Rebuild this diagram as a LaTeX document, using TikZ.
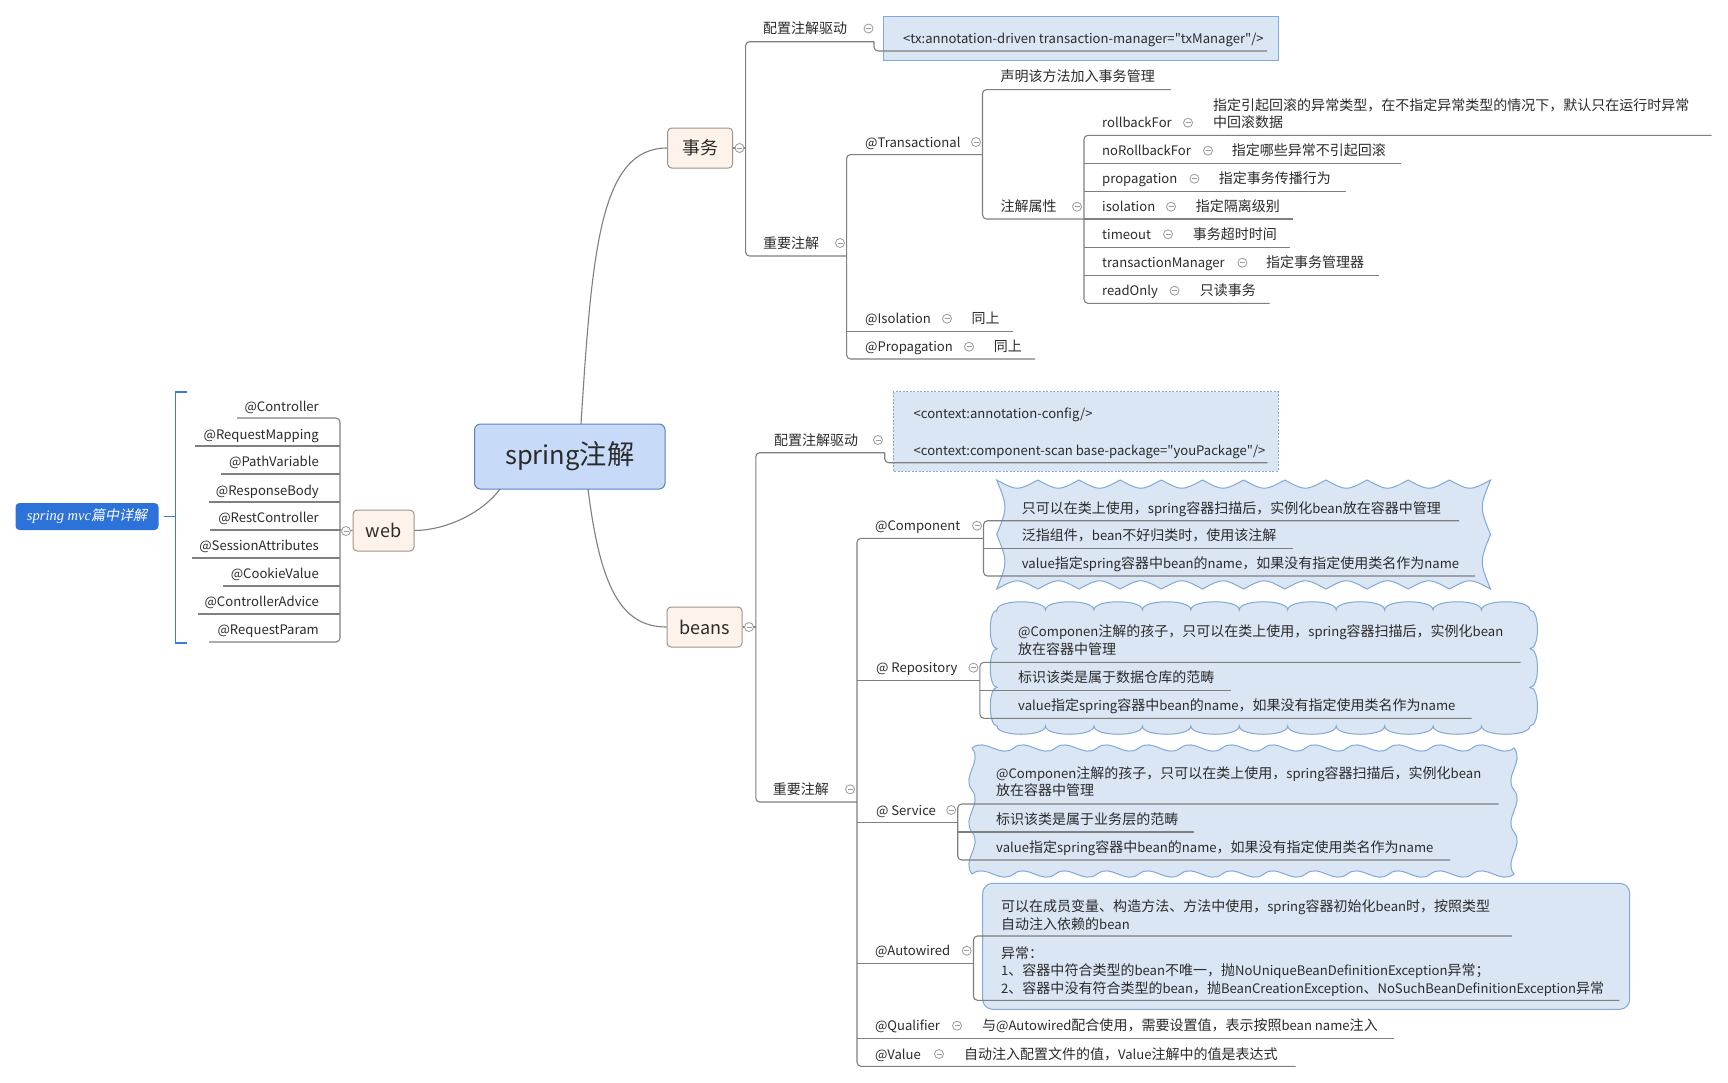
\documentclass[tikz,border=0pt]{standalone}
\usepackage{fontspec}
\setmainfont{Noto Sans CJK SC}[Ligatures=TeXOff]
\newfontfamily\cjkfont{Noto Sans CJK SC}[Ligatures=TeXOff, Scale=1.069]
\newfontfamily\mvcfont{Liberation Serif}
\newfontfamily\cjksl{Noto Sans CJK SC}[FakeSlant=0.2]
% switch to a larger CJK face for CJK characters, smaller Latin face otherwise
\chardef\cjkcls=7
\count255="3000 \loop \XeTeXcharclass\count255=\cjkcls \ifnum\count255<"303F \advance\count255 by 1 \repeat
\count255="4E00 \loop \XeTeXcharclass\count255=\cjkcls \ifnum\count255<"9FFF \advance\count255 by 1 \repeat
\count255="FF00 \loop \XeTeXcharclass\count255=\cjkcls \ifnum\count255<"FFEF \advance\count255 by 1 \repeat
\XeTeXinterchartoks 0 \cjkcls = {\cjkfont}
\XeTeXinterchartoks 4095 \cjkcls = {\cjkfont}
\XeTeXinterchartoks \cjkcls 0 = {\rmfamily}
\XeTeXinterchartoks \cjkcls 4095 = {\rmfamily}
\XeTeXinterchartokenstate=1
\definecolor{linegray}{HTML}{7F7F7F}
\definecolor{txt}{HTML}{2B2B2B}
\definecolor{cloudfill}{HTML}{DBE6F4}
\definecolor{cloudline}{HTML}{80A8DA}
\definecolor{centerfill}{HTML}{C7DBF8}
\definecolor{centerline}{HTML}{5A7FC4}
\definecolor{topicfill}{HTML}{FDF3EA}
\definecolor{topicline}{HTML}{A0948A}
\definecolor{mvcblue}{HTML}{2D72D9}
\definecolor{bracketblue}{HTML}{3B7BD6}
\definecolor{collgray}{HTML}{9A9A9A}
\newcommand\fs{\fontsize{13.1pt}{17.3pt}\selectfont}
\tikzset{
  ln/.style={draw=linegray, line width=1.1pt, rounded corners=4pt},
  curve/.style={draw=linegray, line width=1.1pt},
  lbl/.style={anchor=base west, inner sep=0pt, text=txt, font=\fs},
  lblr/.style={anchor=base east, inner sep=0pt, text=txt, font=\fs},
  cloudA/.style={fill=cloudfill, draw=cloudline, line width=1pt},
  topicbox/.style={fill=topicfill, draw=topicline, line width=1pt, rounded corners=4pt, text=txt, inner sep=0pt},
  coll/.style={circle, draw=collgray, fill=white, line width=0.8pt, minimum size=9pt, inner sep=0pt,
    path picture={\draw[collgray, line width=0.8pt] ([xshift=-2.5pt]path picture bounding box.center) -- ([xshift=2.5pt]path picture bounding box.center);}},
}
\begin{document}
\begin{tikzpicture}[x=1pt, y=-1pt]
\useasboundingbox (0,0) rectangle (1728,1082);
\fill[white] (0,0) rectangle (1728,1082);

% ---------- boxes and clouds ----------
\node[fill=centerfill, draw=centerline, line width=1pt, rounded corners=6pt, minimum width=190.5pt, minimum height=65pt, inner sep=0pt, text=txt, font=\fontsize{25.5pt}{28pt}\selectfont] (center) at (569.75,456.5) {spring注解};
\node[topicbox, minimum width=65pt, minimum height=40pt, font=\fontsize{16.8pt}{20pt}\selectfont] (shiwu) at (700.1,148) {事务};
\node[topicbox, minimum width=75pt, minimum height=40pt, font=\fontsize{18pt}{20pt}\selectfont] (beans) at (704.5,627) {beans};
\node[topicbox, minimum width=61pt, minimum height=41pt, font=\fontsize{18pt}{20pt}\selectfont] (web) at (383.5,530.5) {web};
\node[fill=mvcblue, rounded corners=4pt, minimum width=143pt, minimum height=27pt, inner sep=0pt, text=white] (mvc) at (87,516.5) {\XeTeXinterchartokenstate=0 {\fontsize{14.5pt}{16pt}\selectfont\mvcfont\itshape spring mvc}{\fontsize{14pt}{16pt}\selectfont\cjksl 篇中详解}};

\draw[fill=cloudfill, draw=cloudline, line width=1pt] (883,16) rectangle (1278,60);
\draw[fill=cloudfill, draw=cloudline, line width=1pt, dash pattern=on 2pt off 1.5pt] (893,391.7) rectangle (1278,471);

% Component cloud (cusps outward)
\path[cloudA] (996.7,480)
  \foreach \i in {1,...,12} { .. controls ({996.7+(\i-0.5)*41.15},491) .. ({996.7+\i*41.15},480) }
  \foreach \i in {1,2} { .. controls (1479.5,{480+(\i-0.5)*54.5}) .. (1490.5,{480+\i*54.5}) }
  \foreach \i in {1,...,12} { .. controls ({1490.5-(\i-0.5)*41.15},578) .. ({1490.5-\i*41.15},589) }
  \foreach \i in {1,2} { .. controls (1007.7,{589-(\i-0.5)*54.5}) .. (996.7,{589-\i*54.5}) }
  -- cycle;
% Repository cloud (bumps outward)
\path[cloudA] (997,610)
  \foreach \i in {1,...,11} { .. controls ({997+(\i-1)*48.45},599) and ({997+\i*48.45},599) .. ({997+\i*48.45},610) }
  \foreach \i in {1,2,3} { .. controls (1540,{610+(\i-1)*38.67}) and (1540,{610+\i*38.67}) .. (1530,{610+\i*38.67}) }
  \foreach \i in {1,...,11} { .. controls ({1530-(\i-1)*48.45},737) and ({1530-\i*48.45},737) .. ({1530-\i*48.45},726) }
  \foreach \i in {1,2,3} { .. controls (988,{726-(\i-1)*38.67}) and (988,{726-\i*38.67}) .. (997,{726-\i*38.67}) }
  -- cycle;
% Service cloud (smooth wave)
\path[cloudA] (972,748)
  \foreach \i in {1,...,13} { .. controls ({972+(\i-0.667)*41.69},737) and ({972+(\i-0.333)*41.69},759) .. ({972+\i*41.69},748) }
  \foreach \i in {1,2,3} { .. controls (1525,{748+(\i-0.667)*42}) and (1503,{748+(\i-0.333)*42}) .. (1514,{748+\i*42}) }
  \foreach \i in {1,...,13} { .. controls ({1514-(\i-0.667)*41.69},885) and ({1514-(\i-0.333)*41.69},863) .. ({1514-\i*41.69},874) }
  \foreach \i in {1,2,3} { .. controls (961,{874-(\i-0.667)*42}) and (983,{874-(\i-0.333)*42}) .. (972,{874-\i*42}) }
  -- cycle;
% Autowired box
\draw[fill=cloudfill, draw=cloudline, line width=1pt, rounded corners=10pt] (982.7,883.3) rectangle (1629.7,1009.3);

% ---------- main curves ----------
\coordinate (ctop) at (581,424);
\coordinate (cbot) at (588,489);
\coordinate (cbl) at (500,489);
\draw[curve] (ctop) .. controls (592,250) and (600,148) .. (shiwu.west);
\draw[curve] (cbot) .. controls (600,585) and (620,627) .. (beans.west);
\draw[curve] (web.east) .. controls (450,530) and (485,510) .. (cbl);

% ---------- left (web) ----------
\draw[bracketblue, line width=1.2pt] (mvc.east) ++(5,0) -- (175.4,516.5);
\draw[bracketblue, line width=1.2pt] (186.6,392) -- (175.4,392) -- (175.4,643) -- (186.6,643);
\draw[ln] (web.west) -- (340,530);
\draw[ln] (237,418) -- (340,418) -- (340,642) -- (209,642);
\foreach \y/\x in {446/195, 474/221, 502/209, 530/210, 558/192, 586/223, 614/198} \draw[ln] (\x,\y) -- (340,\y);
\node[lblr] (w1) at (319,411) {@Controller};
\node[lblr] (w2) at (319,439) {@RequestMapping};
\node[lblr] (w3) at (319,466) {@PathVariable};
\node[lblr] (w4) at (319,495) {@ResponseBody};
\node[lblr] (w5) at (319,522) {@RestController};
\node[lblr] (w6) at (319,550) {@SessionAttributes};
\node[lblr] (w7) at (319,578) {@CookieValue};
\node[lblr] (w8) at (319,606) {@ControllerAdvice};
\node[lblr] (w9) at (319,634) {@RequestParam};

% ---------- transaction ----------
\draw[ln] (shiwu.east) -- (745.6,148);
\draw[ln] (874,41.7) -- (745.6,41.7) -- (745.6,256) -- (846.6,256);
\draw[ln] (874,41.7) -- (874,51) -- (1267,51);
\draw[ln] (982.5,154.6) -- (846.6,154.6) -- (846.6,359) -- (1035,359);
\draw[ln] (846.6,331.3) -- (1013,331.3);
\draw[ln] (1170.8,89.6) -- (982.5,89.6) -- (982.5,219) -- (1084,219);
\draw[ln] (1711.5,135.3) -- (1084,135.3) -- (1084,303.3) -- (1269.6,303.3);
\foreach \y/\x in {163.3/1401, 191.3/1345.7, 219/1293.4, 247.3/1290.4, 275.3/1379.4} \draw[ln] (1084,\y) -- (\x,\y);

\node[lbl] (t_pz) at (763,33) {配置注解驱动};
\node[lbl] (t_txt) at (903,43) {<tx:annotation-driven transaction-manager="txManager"/>};
\node[lbl] (t_zy) at (763,248) {重要注解};
\node[lbl] (t_tr) at (865,147) {@Transactional};
\node[lbl] (t_sm) at (1000.5,81) {声明该方法加入事务管理};
\node[lbl] (t_zs) at (1000.5,211.7) {注解属性};
\node[lbl] (a_rb) at (1102,127.7) {rollbackFor};
\node[lbl] (d_rb1) at (1213,110) {指定引起回滚的异常类型，在不指定异常类型的情况下，默认只在运行时异常};
\node[lbl] (d_rb2) at (1213,127.7) {中回滚数据};
\node[lbl] (a_nr) at (1102,155.7) {noRollbackFor};
\node[lbl] (d_nr) at (1231.6,155.7) {指定哪些异常不引起回滚};
\node[lbl] (a_pr) at (1102,183.7) {propagation};
\node[lbl] (d_pr) at (1218.6,183.7) {指定事务传播行为};
\node[lbl] (a_is) at (1102,211.7) {isolation};
\node[lbl] (d_is) at (1195.7,211.7) {指定隔离级别};
\node[lbl] (a_to) at (1102,239.3) {timeout};
\node[lbl] (d_to) at (1192.7,239.3) {事务超时时间};
\node[lbl] (a_tm) at (1102,267.7) {transactionManager};
\node[lbl] (d_tm) at (1266,267.7) {指定事务管理器};
\node[lbl] (a_ro) at (1102,295.7) {readOnly};
\node[lbl] (d_ro) at (1199.6,295.7) {只读事务};
\node[lbl] (t_is) at (865,323.7) {@Isolation};
\node[lbl] (d_is2) at (971.4,323.7) {同上};
\node[lbl] (t_pp) at (865,351.7) {@Propagation};
\node[lbl] (d_pp) at (993.6,351.7) {同上};

% ---------- beans ----------
\draw[ln] (beans.east) -- (755.8,627);
\draw[ln] (884.7,452.7) -- (755.8,452.7) -- (755.8,802) -- (857,802);
\draw[ln] (884.7,452.7) -- (884.7,462.7) -- (1267.5,462.7);
\draw[ln] (983.5,538.3) -- (857,538.3) -- (857,1066.3) -- (1295.6,1066.3);
\foreach \y/\x in {680.3/979.9, 822.7/957.7, 963.3/973.5, 1038.3/1394} \draw[ln] (857,\y) -- (\x,\y);
\draw[ln] (1459,520.7) -- (983.5,520.7) -- (983.5,576) -- (1475,576);
\draw[ln] (983.5,548.3) -- (1293.3,548.3);
\draw[ln] (1520.7,662.3) -- (979.9,662.3) -- (979.9,718.3) -- (1471.7,718.3);
\draw[ln] (979.9,690.3) -- (1230.7,690.3);
\draw[ln] (1498.7,804) -- (957.7,804) -- (957.7,860) -- (1450,860);
\draw[ln] (957.7,832) -- (1193.7,832);
\draw[ln] (1512,936) -- (973.5,936) -- (973.5,1000.3) -- (1619.4,1000.3);

\node[lbl] (b_pz) at (773.8,445) {配置注解驱动};
\node[lbl] (b_c1) at (913.4,418.3) {<context:annotation-config/>};
\node[lbl] (b_c2) at (913.4,455) {<context:component-scan base-package="youPackage"/>};
\node[lbl] (b_zy) at (772.7,794.3) {重要注解};
\node[lbl] (b_cm) at (875,530.7) {@Component};
\node[lbl] (cm1) at (1021.7,513.3) {只可以在类上使用，spring容器扫描后，实例化bean放在容器中管理};
\node[lbl] (cm2) at (1021.7,540.7) {泛指组件，bean不好归类时，使用该注解};
\node[lbl] (cm3) at (1021.7,568.3) {value指定spring容器中bean的name，如果没有指定使用类名作为name};
\node[lbl] (b_rp) at (875.8,672.7) {@ Repository};
\node[lbl] (rp1a) at (1018,636.7) {@Componen注解的孩子，只可以在类上使用，spring容器扫描后，实例化bean};
\node[lbl] (rp1b) at (1018,654) {放在容器中管理};
\node[lbl] (rp2) at (1018,682.3) {标识该类是属于数据仓库的范畴};
\node[lbl] (rp3) at (1018,710.3) {value指定spring容器中bean的name，如果没有指定使用类名作为name};
\node[lbl] (b_sv) at (875.8,815) {@ Service};
\node[lbl] (sv1a) at (996,778.3) {@Componen注解的孩子，只可以在类上使用，spring容器扫描后，实例化bean};
\node[lbl] (sv1b) at (996,795.6) {放在容器中管理};
\node[lbl] (sv2) at (996,824.3) {标识该类是属于业务层的范畴};
\node[lbl] (sv3) at (996,852.3) {value指定spring容器中bean的name，如果没有指定使用类名作为name};
\node[lbl] (b_aw) at (874.8,955.7) {@Autowired};
\node[lbl] (aw1a) at (1001,911.7) {可以在成员变量、构造方法、方法中使用，spring容器初始化bean时，按照类型};
\node[lbl] (aw1b) at (1001,929) {自动注入依赖的bean};
\node[lbl] (aw2a) at (1001,958.3) {异常：};
\node[lbl] (aw2b) at (1001,975) {1、容器中符合类型的bean不唯一，抛NoUniqueBeanDefinitionException异常；};
\node[lbl] (aw2c) at (1001,993) {2、容器中没有符合类型的bean，抛BeanCreationException、NoSuchBeanDefinitionException异常};
\node[lbl] (b_ql) at (874.8,1030.7) {@Qualifier};
\node[lbl] (d_ql) at (982,1030.7) {与@Autowired配合使用，需要设置值，表示按照bean name注入};
\node[lbl] (b_vl) at (874.8,1059) {@Value};
\node[lbl] (d_vl) at (963.8,1059) {自动注入配置文件的值，Value注解中的值是表达式};

% ---------- collapse markers ----------
\foreach \n/\x/\y in {k1/346/531, k2/739.5/148, k3/868.5/28.5, k4/840/243, k5/976/142, k6/1077/206.7,
  k7/1188/122.7, k8/1208/150.7, k9/1194.4/178.7, k10/1171/206.7, k11/1168/234.3, k12/1242.4/262.7, k13/1174.5/290.7,
  k14/947/318.7, k15/969/346.7, k16/749/627, k17/878/440, k18/850/789.3,
  k19/977/525.7, k20/973.4/667.7, k21/951.2/810, k22/966.7/950.7, k23/957/1025.7, k24/939/1054}
  \node[coll] (\n) at (\x,\y) {};
\end{tikzpicture}
\end{document}
